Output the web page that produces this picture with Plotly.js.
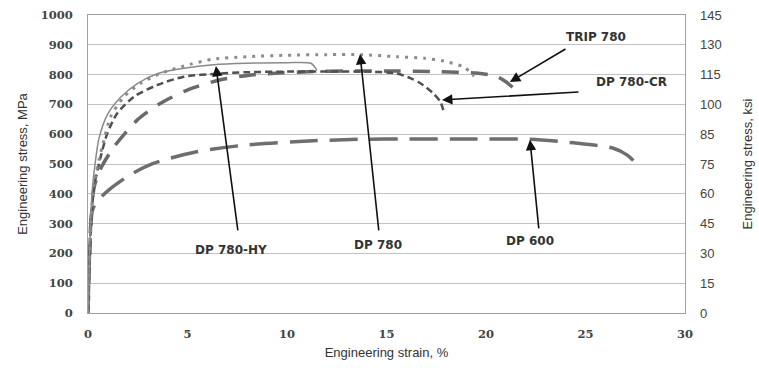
<!DOCTYPE html>
<html>
<head>
<meta charset="utf-8">
<script src="https://cdn.plot.ly/plotly-3.0.1.min.js"></script>
<style>html,body{margin:0;padding:0;background:#fff;}#chart{width:759px;height:368px;}</style>
</head>
<body>
<div id="chart"></div>
<script>
// Engineering strain (%) / engineering stress (MPa)
const hyStrain   = [0, 0.1, 0.2, 0.3, 0.55, 0.97, 1.64, 2.48, 3.48, 4.82, 6.3, 8, 10, 11.2, 11.5];
const hyStress   = [0, 250, 400, 470, 585, 665, 724, 770, 803, 821, 833, 838, 840, 838, 815];

const tripStrain = [0, 0.15, 0.3, 0.55, 0.8, 1.14, 1.81, 2.65, 3.65, 5.16, 6.3, 8, 10, 12, 13.7, 15.5, 16.9, 17.9, 18.9, 19.4];
const tripStress = [0, 300, 430, 513, 580, 659, 726, 771, 804, 835, 852, 860, 865, 867, 867, 860, 855, 845, 825, 795];

const crStrain   = [0, 0.15, 0.3, 0.64, 0.97, 1.47, 2.31, 3.48, 4.82, 6.5, 8, 10, 12, 14, 15.5, 16.2, 16.7, 17.3, 17.7, 17.9];
const crStress   = [0, 300, 420, 525, 603, 670, 726, 765, 793, 803, 808, 810, 810, 810, 804, 788, 771, 740, 710, 670];

const dp780Strain = [0, 0.15, 0.3, 0.6, 1.31, 2.48, 3.65, 4.99, 6.6, 8.2, 9.8, 11.3, 13, 15, 17.7, 19.5, 20.5, 21.0, 21.5];
const dp780Stress = [0, 300, 420, 480, 558, 648, 704, 748, 782, 799, 806, 810, 812, 812, 810, 805, 795, 776, 748];

const dp600Strain = [0, 0.1, 0.2, 0.39, 1.05, 2.1, 3.28, 5.46, 7.97, 11.3, 13.8, 16, 19, 22.2, 24.4, 26.4, 27.1, 27.8];
const dp600Stress = [0, 250, 340, 369, 413, 463, 502, 541, 564, 578, 583, 584, 584, 583, 571, 553, 530, 485];

const leftTicks  = [0, 100, 200, 300, 400, 500, 600, 700, 800, 900, 1000];
const ksiLabels  = ["0", "15", "30", "45", "60", "75", "85", "100", "115", "130", "145"];
const xTicks     = [0, 5, 10, 15, 20, 25, 30];

const labels = ["DP 780-HY", "DP 780", "DP 600", "TRIP 780", "DP 780-CR"];

const traces = [
  {x: dp600Strain, y: dp600Stress, mode: 'lines', line: {color: '#6e6e6e', width: 3.5, dash: '28px,12px', shape: 'spline', smoothing: 0.7}},
  {x: dp780Strain, y: dp780Stress, mode: 'lines', line: {color: '#6a6a6a', width: 3.5, dash: '17px,12px', shape: 'spline', smoothing: 0.7}},
  {x: crStrain, y: crStress, mode: 'lines', line: {color: '#505050', width: 2.5, dash: '7px,4px', shape: 'spline', smoothing: 0.7}},
  {x: tripStrain, y: tripStress, mode: 'lines', line: {color: '#8c8c8c', width: 3, dash: '3px,6px', shape: 'spline', smoothing: 0.7}},
  {x: hyStrain, y: hyStress, mode: 'lines', line: {color: '#8a8a8a', width: 1.5, shape: 'spline', smoothing: 0.7}},
  {x: [0, 30], y: [0, 0], yaxis: 'y2', mode: 'lines', line: {width: 0}, hoverinfo: 'skip'}
];

const labelFont = {family: 'DejaVu Sans', size: 12, weight: 'bold', color: '#333'};
function arrow(hx, hy, tx, ty) {
  return {x: hx, y: hy, ax: tx, ay: ty, axref: 'x', ayref: 'y', xref: 'x', yref: 'y',
          text: '', showarrow: true, arrowhead: 2, arrowsize: 1.3, arrowwidth: 1.6, arrowcolor: '#111'};
}
function label(t, x, y) {
  return {x: x, y: y, xref: 'x', yref: 'y', text: t, showarrow: false, font: labelFont};
}

const layout = {
  width: 759, height: 368,
  margin: {l: 88, r: 74, t: 15, b: 55},
  paper_bgcolor: '#fff', plot_bgcolor: '#fff',
  showlegend: false,
  font: {family: 'Liberation Sans, Arial, sans-serif', color: '#333'},
  xaxis: {
    range: [0, 30], tickvals: xTicks, ticks: '', showgrid: false, zeroline: false,
    showline: true, linecolor: '#a0a0a0', linewidth: 1, mirror: true,
    tickfont: {family: 'DejaVu Serif', size: 11.5, weight: 'bold', color: '#444'},
    ticklabelstandoff: 10,
    title: {text: 'Engineering strain, %', font: {size: 13, color: '#333'}, standoff: 8}
  },
  yaxis: {
    range: [0, 1000], tickvals: leftTicks, ticks: '', showgrid: true, gridcolor: '#c2c2c2', gridwidth: 1,
    zeroline: false, showline: true, linecolor: '#a0a0a0', linewidth: 1, mirror: true,
    tickfont: {family: 'DejaVu Serif', size: 11.5, weight: 'bold', color: '#444'},
    ticklabelstandoff: 12,
    title: {text: 'Engineering stress, MPa', font: {size: 13, color: '#333'}, standoff: 10}
  },
  yaxis2: {
    range: [0, 1000], overlaying: 'y', side: 'right', tickvals: leftTicks, ticktext: ksiLabels,
    showgrid: false, zeroline: false, ticks: '',
    tickfont: {family: 'Liberation Sans', size: 13, color: '#444'},
    ticklabelstandoff: 14,
    title: {text: 'Engineering stress, ksi', font: {size: 13, color: '#333'}, standoff: 22}
  },
  annotations: [
    arrow(6.43, 829, 7.54, 272),
    arrow(13.67, 869, 14.62, 272),
    arrow(22.21, 581, 22.66, 279),
    arrow(21.2, 775, 24.07, 889),
    arrow(17.79, 715, 24.72, 742),
    label(labels[0], 7.19, 211),
    label(labels[1], 14.57, 228),
    label(labels[2], 22.21, 242),
    label(labels[3], 25.53, 926),
    label(labels[4], 27.29, 775)
  ]
};

Plotly.newPlot('chart', traces, layout, {displayModeBar: false, staticPlot: true});
</script>
</body>
</html>
